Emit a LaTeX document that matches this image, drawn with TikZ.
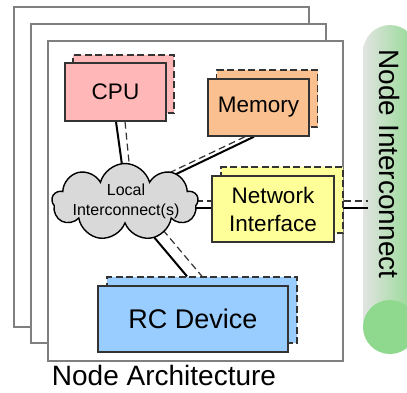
\documentclass[tikz,border=0pt]{standalone}
\usepackage{fontspec}
\setmainfont{Liberation Sans}
\usetikzlibrary{shapes.symbols,calc}
\definecolor{cpuc}{HTML}{FFB7B7}
\definecolor{memc}{HTML}{FAC090}
\definecolor{nifill}{HTML}{FFFF99}
\definecolor{rcc}{HTML}{99CCFF}
\definecolor{cloudc}{HTML}{D9D9D9}
\definecolor{greenc}{HTML}{8FD98F}
\definecolor{greyc}{HTML}{E2E4E2}
\definecolor{edgec}{HTML}{333333}
\definecolor{framec}{HTML}{7F7F7F}
\pgfdeclarelayer{bg}
\pgfdeclarelayer{lines}
\pgfsetlayers{bg,lines,main}
\begin{document}
\begin{tikzpicture}[x=1pt,y=-1pt,
  frame/.style={draw=framec,line width=1.2pt,fill=white},
  box/.style={draw=edgec,line width=1.4pt,inner sep=0pt,align=center},
  shadowbox/.style={draw=edgec,line width=1.4pt,dash pattern=on 7pt off 3.5pt,inner sep=0pt},
  solidc/.style={draw=black,line width=2pt},
  dashc/.style={draw=edgec,line width=1.2pt,dash pattern=on 7pt off 4pt},
  bigtxt/.style={font=\fontsize{22.5}{28}\selectfont}]
\useasboundingbox (0,0) rectangle (407,392);

% boxes (main layer)
\node[shadowbox,fill=cpuc,minimum width=101pt,minimum height=58pt] (cpus) at (123.5,84) {};
\node[box,fill=cpuc,minimum width=101pt,minimum height=58pt,bigtxt] (cpu) at (115.5,92) {CPU};
\node[shadowbox,fill=memc,minimum width=101pt,minimum height=57pt] (mems) at (267,98.5) {};
\node[box,fill=memc,minimum width=101pt,minimum height=57pt,bigtxt] (mem) at (258.5,107.5) {Memory};
\node[shadowbox,fill=nifill,minimum width=122pt,minimum height=66pt] (nis) at (282,200) {};
\node[box,fill=nifill,minimum width=122pt,minimum height=66pt,bigtxt] (ni) at (273,209) {Network\\Interface};
\node[shadowbox,fill=rcc,minimum width=190pt,minimum height=66pt] (rcs) at (202,310) {};
\node[box,fill=rcc,minimum width=190pt,minimum height=66pt,font=\fontsize{27}{32}\selectfont] (rc) at (193,319) {RC Device};
\node[cloud,cloud puffs=9,draw=black,line width=1.4pt,fill=cloudc,minimum width=146pt,minimum height=77pt,inner sep=0pt] (cloud) at (125,202) {};
\node[align=center,inner sep=0pt,font=\fontsize{16}{20}\selectfont] (cloudtxt) at (126,201) {Local\\Interconnect(s)};

\node[font=\fontsize{28}{32}\selectfont,anchor=base] (arch) at (164,385) {Node Architecture};

\begin{pgfonlayer}{bg}
  \draw[frame] (14,7) rectangle (309,327);
  \draw[frame] (31,24) rectangle (326,343);
  \draw[frame] (48,41) rectangle (343,361);
  \shade[left color=greyc,right color=greenc] (363,327) -- (363,52) arc[start angle=180,end angle=360,radius=27] -- (417,327) -- cycle;
  \fill[greenc] (390,327) circle[radius=27];
\end{pgfonlayer}
\node[rotate=-90,font=\fontsize{28}{32}\selectfont] (nictxt) at (390,164) {Node Interconnect};
\coordinate (ic1) at (368,208);
\coordinate (ic2) at (368,201);

\begin{pgfonlayer}{lines}
  \draw[solidc] ($(cpu.south)+(0.5,0)$) -- ($(cloud.center)+(-2,-30)$);
  \draw[dashc] ($(cpu.south)+(9.5,0)$) -- ($(cloud.center)+(5,-30)$);
  \draw[solidc] ($(mem.south)+(-4.5,0)$) -- ($(cloud.center)+(45,-25)$);
  \draw[dashc] ($(mem.south)+(-13.5,0)$) -- ($(cloud.center)+(41,-27.6)$);
  \draw[solidc] ($(cloud.center)+(60,6)$) -- ($(ni.west)+(0,-1)$);
  \draw[dashc] ($(cloud.center)+(60,-1)$) -- ($(nis.west)+(0,1)$);
  \draw[solidc] ($(ni.east)+(0,-1)$) -- (ic1);
  \draw[dashc] ($(nis.east)+(0,1)$) -- (ic2);
  \draw[solidc] ($(cloud.center)+(23,28)$) -- ($(rcs.north)+(-15,0)$);
  \draw[dashc] ($(cloud.center)+(38,28)$) -- (rcs.north);
\end{pgfonlayer}
\end{tikzpicture}
\end{document}
